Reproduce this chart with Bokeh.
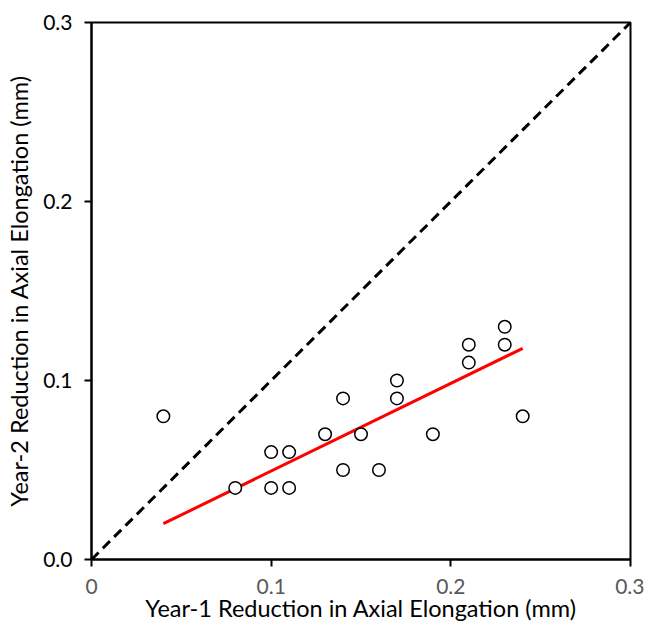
from bokeh.plotting import figure
from bokeh.models import Range1d, FixedTicker
from bokeh.embed import file_html
from bokeh.resources import INLINE

# Data
year1 = [0.04, 0.08, 0.10, 0.10, 0.11, 0.11, 0.13, 0.14, 0.14, 0.15,
         0.16, 0.17, 0.17, 0.19, 0.21, 0.21, 0.23, 0.23, 0.24]
year2 = [0.08, 0.04, 0.06, 0.04, 0.06, 0.04, 0.07, 0.09, 0.05, 0.07,
         0.05, 0.10, 0.09, 0.07, 0.12, 0.11, 0.13, 0.12, 0.08]
fit_x = [0.04, 0.24]
fit_y = [0.020, 0.118]
identity_x = [0.0, 0.3]
identity_y = [0.0, 0.3]
tick_values = [0.0, 0.1, 0.2, 0.3]
x_tick_labels = ["0", "0.1", "0.2", "0.3"]
y_tick_labels = ["0.0", "0.1", "0.2", "0.3"]

FONT = "Lato"

p = figure(width=644, height=635, output_backend="svg", toolbar_location=None,
           x_range=Range1d(0, 0.3), y_range=Range1d(0, 0.3),
           min_border_left=91, min_border_right=14, min_border_top=22, min_border_bottom=76)
p.background_fill_color = "white"
p.border_fill_color = "white"
p.outline_line_color = "black"
p.outline_line_width = 2
p.grid.visible = False

p.line(identity_x, identity_y, line_color="black", line_width=3, line_dash="10 6")
p.line(fit_x, fit_y, line_color="#ff0000", line_width=3)
p.scatter(year1, year2, marker="circle", size=12.5, fill_color="white",
          line_color="black", line_width=1.5)

for ax, labels, color in ((p.xaxis[0], x_tick_labels, "#595959"),
                          (p.yaxis[0], y_tick_labels, "black")):
    ax.ticker = FixedTicker(ticks=tick_values)
    ax.major_label_overrides = {t: l for t, l in zip(tick_values, labels)}
    ax.axis_line_color = "black"
    ax.axis_line_width = 2
    ax.major_tick_line_color = "black"
    ax.major_tick_line_width = 2
    ax.major_tick_out = 7
    ax.major_tick_in = 0
    ax.minor_tick_line_color = None
    ax.major_label_text_font = FONT
    ax.major_label_text_font_size = "21px"
    ax.major_label_text_color = color
    ax.axis_label_text_font = FONT
    ax.axis_label_text_font_size = "23.5px"
    ax.axis_label_text_font_style = "normal"
    ax.axis_label_text_color = "black"

p.xaxis.axis_label = "Year-1 Reduction in Axial Elongation (mm)"
p.yaxis.axis_label = "Year-2 Reduction in Axial Elongation (mm)"
p.xaxis.major_label_standoff = 12
p.xaxis.axis_label_standoff = -3
p.yaxis.major_label_standoff = 12
p.yaxis.axis_label_standoff = 7

open("out.html", "w").write(file_html(p, INLINE))
